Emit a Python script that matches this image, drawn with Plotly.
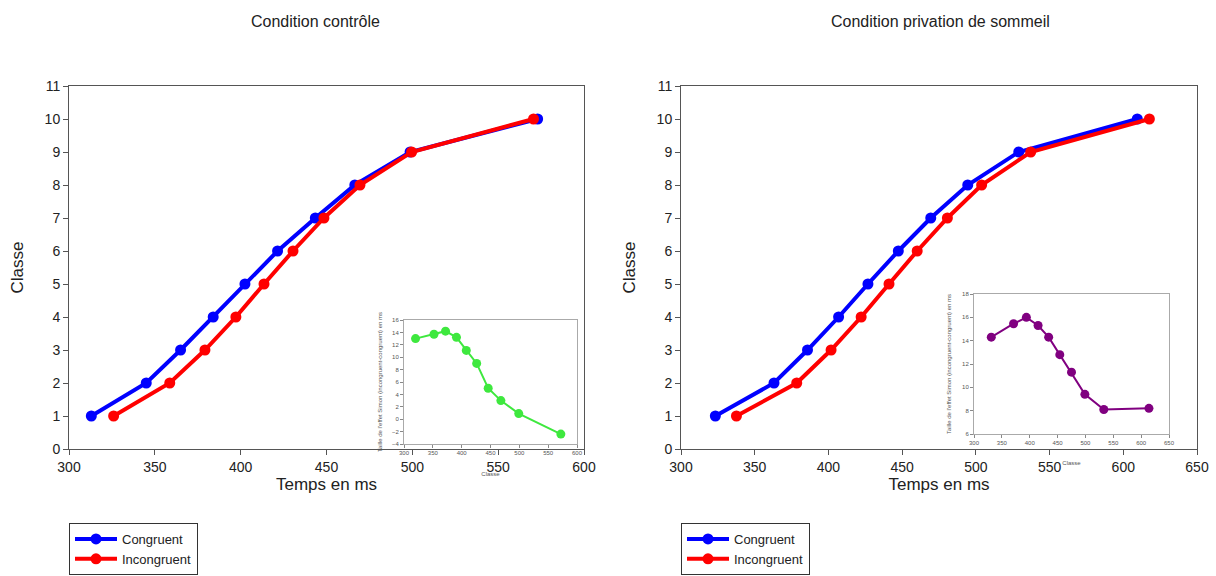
import plotly.graph_objects as go

W, H = 1216, 576

# ---------------- data ----------------
classes = [1, 2, 3, 4, 5, 6, 7, 8, 9, 10]

ctrl_congruent = [313, 345, 365, 384, 402.5, 421.5, 443.5, 466.5, 498.7, 573]
ctrl_incongruent = [326, 358.7, 379.2, 397.2, 413.6, 430.5, 448.5, 469.5, 499.6, 570.6]
ctrl_effect_x = [320, 352, 372, 391, 408, 426, 446, 468, 499, 572]
ctrl_effect_y = [13.0, 13.7, 14.2, 13.2, 11.1, 9.0, 5.0, 3.0, 0.9, -2.4]

priv_congruent = [323.3, 363.1, 385.8, 406.9, 426.8, 447.4, 469.4, 494.5, 529.1, 609.5]
priv_incongruent = [337.6, 378.5, 401.8, 422.2, 441.1, 460.2, 480.7, 503.9, 537.2, 617.7]
priv_effect_x = [331, 371, 394, 415, 434, 454, 475, 499, 533, 614]
priv_effect_y = [14.3, 15.45, 16.0, 15.3, 14.3, 12.8, 11.3, 9.4, 8.1, 8.2]

titles = ["Condition contrôle", "Condition privation de sommeil"]
series_names = ["Congruent", "Incongruent"]

FONT = "Liberation Sans, Arial, sans-serif"
BLUE = "#0000ff"
RED = "#ff0000"
GREEN = "#3ee83e"
PURPLE = "#800080"


def px_x(x):
    return x / W


def px_y(y):
    return (H - y) / H


fig = go.Figure()

# main plots
for i, (cong, incong, leg) in enumerate([
        (ctrl_congruent, ctrl_incongruent, "legend"),
        (priv_congruent, priv_incongruent, "legend2")]):
    xa = "x" if i == 0 else "x2"
    ya = "y" if i == 0 else "y2"
    for name, xs, col in [(series_names[0], cong, BLUE), (series_names[1], incong, RED)]:
        fig.add_trace(go.Scatter(
            x=xs, y=classes, mode="lines+markers", name=name,
            line=dict(color=col, width=4),
            marker=dict(color=col, size=11),
            xaxis=xa, yaxis=ya, legend=leg, showlegend=True))

# insets
fig.add_trace(go.Scatter(
    x=ctrl_effect_x, y=ctrl_effect_y, mode="lines+markers",
    line=dict(color=GREEN, width=2), marker=dict(color=GREEN, size=9),
    xaxis="x3", yaxis="y3", showlegend=False))
fig.add_trace(go.Scatter(
    x=priv_effect_x, y=priv_effect_y, mode="lines+markers",
    line=dict(color=PURPLE, width=2), marker=dict(color=PURPLE, size=9),
    xaxis="x4", yaxis="y4", showlegend=False))

main_common = dict(
    showline=True, mirror=True, linecolor="#555", linewidth=1,
    ticks="outside", ticklen=5, tickcolor="#555", automargin=False,
    showgrid=False, zeroline=False,
    tickfont=dict(size=14, color="#222", family=FONT),
)
inset_common = dict(
    showline=True, mirror=True, linecolor="#aaa", linewidth=1,
    ticks="outside", ticklen=3, tickcolor="#888", automargin=False,
    showgrid=False, zeroline=False,
    tickfont=dict(size=6, color="#555", family=FONT),
)

fig.update_layout(
    template="none",
    width=W, height=H,
    margin=dict(l=0, r=0, t=0, b=0, pad=0),
    paper_bgcolor="white", plot_bgcolor="white",
    font=dict(family=FONT, color="#222"),
    xaxis=dict(domain=[px_x(69), px_x(584)], range=[300, 600], dtick=50, anchor="y",
               title=dict(text="Temps en ms", font=dict(size=17), standoff=4), **main_common),
    yaxis=dict(domain=[px_y(449), px_y(86)], range=[0, 11], dtick=1, anchor="x",
               title=dict(text="Classe", font=dict(size=17), standoff=16), **main_common),
    xaxis2=dict(domain=[px_x(681), px_x(1197)], range=[300, 650], dtick=50, anchor="y2",
                title=dict(text="Temps en ms", font=dict(size=17), standoff=4), **main_common),
    yaxis2=dict(domain=[px_y(449), px_y(86)], range=[0, 11], dtick=1, anchor="x2",
                title=dict(text="Classe", font=dict(size=17), standoff=16), **main_common),
    xaxis3=dict(domain=[px_x(404), px_x(577)], range=[300, 600], dtick=50, anchor="y3",
                title=dict(text="Classe", font=dict(size=6, color="#555"), standoff=16), **inset_common),
    yaxis3=dict(domain=[px_y(444), px_y(320)], range=[-4, 16], dtick=2, anchor="x3",
                title=dict(text="Taille de l'effet Simon (incongruent-congruent) en ms",
                           font=dict(size=6, color="#555"), standoff=8), **inset_common),
    xaxis4=dict(domain=[px_x(974), px_x(1169)], range=[300, 650], dtick=50, anchor="y4",
                title=dict(text="Classe", font=dict(size=6, color="#555"), standoff=15), **inset_common),
    yaxis4=dict(domain=[px_y(434), px_y(294)], range=[6, 18], dtick=2, anchor="x4",
                title=dict(text="Taille de l'effet Simon (incongruent-congruent) en ms",
                           font=dict(size=6, color="#555"), standoff=10), **inset_common),
    legend=dict(x=px_x(69), y=px_y(523), xanchor="left", yanchor="top",
                bordercolor="#333", borderwidth=1, bgcolor="white", itemwidth=42,
                font=dict(size=13, color="#222", family=FONT), tracegroupgap=0),
    legend2=dict(x=px_x(681), y=px_y(523), xanchor="left", yanchor="top",
                 bordercolor="#333", borderwidth=1, bgcolor="white", itemwidth=42,
                 font=dict(size=13, color="#222", family=FONT), tracegroupgap=0),
    annotations=[
        dict(text=titles[0], x=px_x(315), y=px_y(21), xref="paper", yref="paper",
             xanchor="center", yanchor="middle",
             showarrow=False, font=dict(size=16, color="#222", family=FONT)),
        dict(text=titles[1], x=px_x(940), y=px_y(21), xref="paper", yref="paper",
             xanchor="center", yanchor="middle",
             showarrow=False, font=dict(size=16, color="#222", family=FONT)),
    ],
)

fig.write_html("out.html")
